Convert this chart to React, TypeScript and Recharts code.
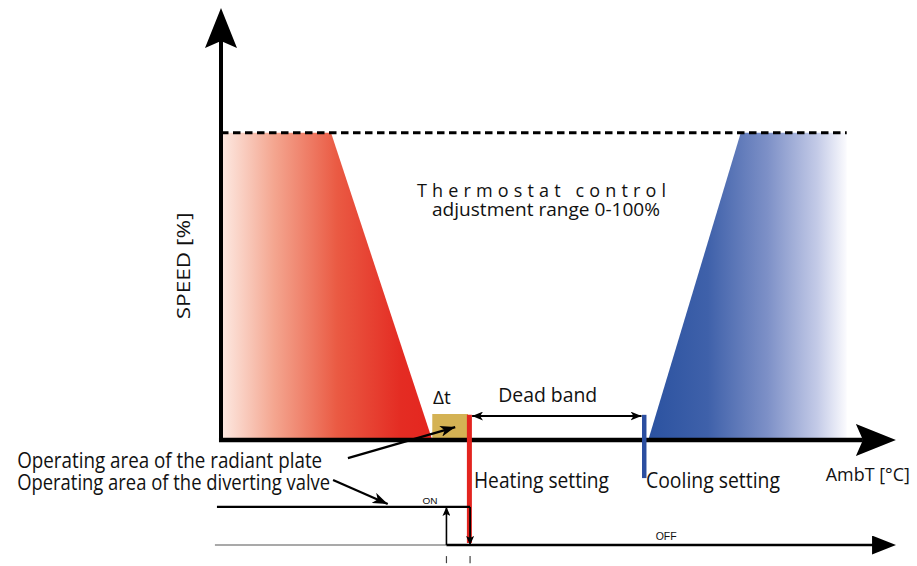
import React from "react";
import {
  ComposedChart,
  Area,
  XAxis,
  YAxis,
  ReferenceLine,
  ReferenceArea,
  ReferenceDot,
} from "recharts";

// ambient temperature (arbitrary units along the axis) and fan speed in %
const ambT = [0, 16.3, 31.3, 63.3, 77.0, 92.7];
const heatingSpeed = [100, 100, 0, null, null, null];
const coolingSpeed = [null, null, null, 0, 100, 100];

const maxSpeed = 100;
const deltaT = [31.3, 36.6];
const deltaTHeight = 8.5;
const heatingSetpoint = 36.8;
const coolingSetpoint = 62.7;
const onLevel = -21.8;
const offLevel = -34.2;
const valveOnAt = 33.4;
const valveOffAt = 36.9;

const data = ambT.map((t, i) => ({ t, heat: heatingSpeed[i], cool: coolingSpeed[i] }));

const FONT = "'Open Sans', 'DejaVu Sans', sans-serif";

// eslint-disable-next-line @typescript-eslint/no-explicit-any
const seg = (color: string, width: number, start?: string, end?: string, dash?: string) => (p: any) => (
  <line
    x1={p.x1}
    y1={p.y1}
    x2={p.x2}
    y2={p.y2}
    stroke={color}
    strokeWidth={width}
    strokeDasharray={dash}
    markerStart={start ? `url(#${start})` : undefined}
    markerEnd={end ? `url(#${end})` : undefined}
  />
);

const txt =
  (label: string, size: number, len?: number, opts: { anchor?: string; rotate?: boolean; spacing?: boolean; family?: string } = {}) =>
  // eslint-disable-next-line @typescript-eslint/no-explicit-any
  (p: any) => (
    <text
      x={p.cx}
      y={p.cy}
      fontFamily={opts.family ?? FONT}
      fontSize={size}
      fill="#111"
      textAnchor={opts.anchor ?? "start"}
      textLength={len}
      lengthAdjust={len ? (opts.spacing ? "spacing" : "spacingAndGlyphs") : undefined}
      transform={opts.rotate ? `rotate(-90 ${p.cx} ${p.cy})` : undefined}
    >
      {label}
    </text>
  );

export default function App() {
  return (
    <div style={{ position: "absolute", left: 0, top: 0, background: "#fff" }}>
      <ComposedChart width={917} height={566} data={data} margin={{ top: 10, right: 21, bottom: 126, left: 221 }}>
        <defs>
          <linearGradient id="heatGrad" x1="0" y1="0" x2="1" y2="0">
            <stop offset="0%" stopColor="#fdeae3" />
            <stop offset="25%" stopColor="#f4a690" />
            <stop offset="55%" stopColor="#ea5a43" />
            <stop offset="85%" stopColor="#e42c23" />
            <stop offset="100%" stopColor="#e4261f" />
          </linearGradient>
          <linearGradient id="coolGrad" x1="0" y1="0" x2="1" y2="0">
            <stop offset="0%" stopColor="#2b52a0" />
            <stop offset="30%" stopColor="#3f61aa" />
            <stop offset="60%" stopColor="#7d90c7" />
            <stop offset="85%" stopColor="#c3cae7" />
            <stop offset="100%" stopColor="#fbfbfe" />
          </linearGradient>
          <marker id="big" viewBox="0 0 40 32" markerWidth={40} markerHeight={32} refX={7} refY={16} orient="auto" markerUnits="userSpaceOnUse">
            <path d="M0,0 L40,16 L0,32 L7,16 Z" fill="#000" />
          </marker>
          <marker id="off" viewBox="0 0 24 19" markerWidth={24} markerHeight={19} refX={1} refY={9.5} orient="auto" markerUnits="userSpaceOnUse">
            <path d="M0,0 L24,9.5 L0,19 Z" fill="#000" />
          </marker>
          <marker id="small" viewBox="0 0 11 9" markerWidth={11} markerHeight={9} refX={11} refY={4.5} orient="auto-start-reverse" markerUnits="userSpaceOnUse">
            <path d="M0,0 L11,4.5 L0,9 L3,4.5 Z" fill="#000" />
          </marker>
          <marker id="med" viewBox="0 0 15 11" markerWidth={15} markerHeight={11} refX={15} refY={5.5} orient="auto" markerUnits="userSpaceOnUse">
            <path d="M0,0 L15,5.5 L0,11 L4,5.5 Z" fill="#000" />
          </marker>
          <marker id="tiny" viewBox="0 0 9 8" markerWidth={9} markerHeight={8} refX={9} refY={4} orient="auto" markerUnits="userSpaceOnUse">
            <path d="M0,0 L9,4 L0,8 L2,4 Z" fill="#000" />
          </marker>
        </defs>
        <XAxis type="number" dataKey="t" domain={[0, 100]} hide allowDataOverflow />
        <YAxis type="number" domain={[0, 140]} hide allowDataOverflow />

        <Area
          type="linear"
          dataKey="heat"
          stroke="none"
          fill="url(#heatGrad)"
          fillOpacity={1}
          baseValue={0}
          dot={false}
          activeDot={false}
          isAnimationActive={false}
        />
        <Area
          type="linear"
          dataKey="cool"
          stroke="none"
          fill="url(#coolGrad)"
          fillOpacity={1}
          baseValue={0}
          dot={false}
          activeDot={false}
          isAnimationActive={false}
        />

        {/* max speed */}
        <ReferenceLine
          segment={[{ x: 0, y: maxSpeed }, { x: 92.7, y: maxSpeed }]}
          ifOverflow="visible"
          shape={seg("#000", 3, undefined, undefined, "7.5 4.5")}
        />

        {/* axes */}
        <ReferenceLine segment={[{ x: 0, y: -0.6 }, { x: 0, y: 129.9 }]} ifOverflow="visible" shape={seg("#000", 4, undefined, "big")} />
        <ReferenceLine segment={[{ x: -0.3, y: 0 }, { x: 95.1, y: 0 }]} ifOverflow="visible" shape={seg("#000", 4.5, undefined, "big")} />

        {/* delta t */}
        <ReferenceArea x1={deltaT[0]} x2={deltaT[1]} y1={0} y2={deltaTHeight} fill="#d4b254" fillOpacity={1} ifOverflow="visible" />

        {/* setpoints */}
        <ReferenceLine segment={[{ x: heatingSetpoint, y: 8.2 }, { x: heatingSetpoint, y: -33.5 }]} ifOverflow="visible" shape={seg("#e3241f", 5)} />
        <ReferenceLine segment={[{ x: coolingSetpoint, y: 8.2 }, { x: coolingSetpoint, y: -12.4 }]} ifOverflow="visible" shape={seg("#2b4ea0", 4.5)} />

        {/* dead band */}
        <ReferenceLine segment={[{ x: 37.2, y: 7.8 }, { x: 62.3, y: 7.8 }]} ifOverflow="visible" shape={seg("#000", 2, "small", "small")} />

        {/* valve on / off */}
        <ReferenceLine segment={[{ x: -0.6, y: onLevel }, { x: valveOffAt, y: onLevel }]} ifOverflow="visible" shape={seg("#000", 2.2)} />
        <ReferenceLine segment={[{ x: -0.9, y: offLevel }, { x: valveOnAt, y: offLevel }]} ifOverflow="visible" shape={seg("#8c8c8c", 1.5)} />
        <ReferenceLine segment={[{ x: valveOnAt, y: offLevel }, { x: 96.6, y: offLevel }]} ifOverflow="visible" shape={seg("#000", 2.5, undefined, "off")} />
        <ReferenceLine segment={[{ x: valveOnAt, y: offLevel }, { x: valveOnAt, y: onLevel }]} ifOverflow="visible" shape={seg("#000", 1.6, undefined, "tiny")} />
        <ReferenceLine segment={[{ x: valveOffAt, y: onLevel }, { x: valveOffAt, y: offLevel }]} ifOverflow="visible" shape={seg("#000", 1.8, undefined, "tiny")} />
        <ReferenceLine segment={[{ x: valveOnAt, y: -37.8 }, { x: valveOnAt, y: -40.1 }]} ifOverflow="visible" shape={seg("#444", 1.2)} />
        <ReferenceLine segment={[{ x: valveOffAt, y: -37.8 }, { x: valveOffAt, y: -40.1 }]} ifOverflow="visible" shape={seg("#444", 1.2)} />

        {/* pointer arrows */}
        <ReferenceLine segment={[{ x: 18.8, y: -5.9 }, { x: 34.7, y: 4.2 }]} ifOverflow="visible" shape={seg("#000", 2.2, undefined, "med")} />
        <ReferenceLine segment={[{ x: 16.6, y: -13.0 }, { x: 24.7, y: -20.8 }]} ifOverflow="visible" shape={seg("#000", 2.2, undefined, "med")} />

        {/* texts */}
        <ReferenceDot x={29.04} y={79.2} ifOverflow="visible" shape={txt("Thermostat control", 18, 249, { spacing: true })} />
        <ReferenceDot x={31.26} y={72.9} ifOverflow="visible" shape={txt("adjustment range 0-100%", 18, 228)} />
        <ReferenceDot x={-4.6} y={56.7} ifOverflow="visible" shape={txt("SPEED [%]", 19, 107, { anchor: "middle", rotate: true })} />
        <ReferenceDot x={31.4} y={11.7} ifOverflow="visible" shape={txt("\u0394t", 19)} />
        <ReferenceDot x={48.4} y={12.4} ifOverflow="visible" shape={txt("Dead band", 20, 99, { anchor: "middle" })} />
        <ReferenceDot x={37.48} y={-15.6} ifOverflow="visible" shape={txt("Heating setting", 21, 135)} />
        <ReferenceDot x={62.96} y={-15.6} ifOverflow="visible" shape={txt("Cooling setting", 21, 134)} />
        <ReferenceDot x={89.6} y={-13.35} ifOverflow="visible" shape={txt("AmbT [\u00b0C]", 18, 84)} />
        <ReferenceDot x={-30.2} y={-9.1} ifOverflow="visible" shape={txt("Operating area of the radiant plate", 21, 305)} />
        <ReferenceDot x={-30.2} y={-16.3} ifOverflow="visible" shape={txt("Operating area of the diverting valve", 21, 313)} />
        <ReferenceDot x={30.96} y={-20.8} ifOverflow="visible" shape={txt("ON", 9.5, 15, { anchor: "middle", family: "'Liberation Sans', Arial, sans-serif" })} />
        <ReferenceDot x={64.4} y={-32.6} ifOverflow="visible" shape={txt("OFF", 10.5, 21, { family: "'Liberation Sans', Arial, sans-serif" })} />
      </ComposedChart>
    </div>
  );
}
